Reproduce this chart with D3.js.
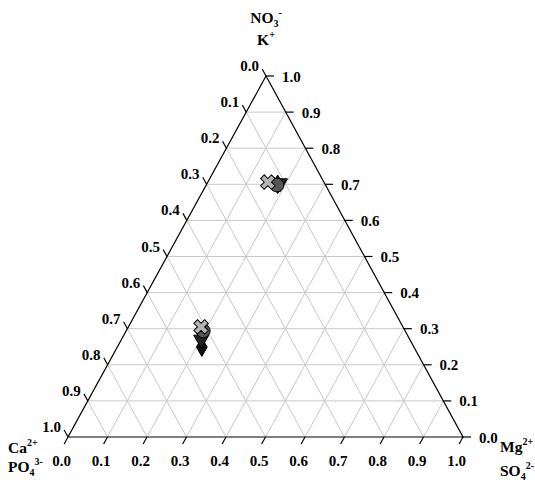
<!DOCTYPE html>
<html>
<head>
<meta charset="utf-8">
<script src="https://cdn.jsdelivr.net/npm/d3@7"></script>
<style>
  body { margin: 0; background: #fff; }
  svg { display: block; }
  text { font-family: "Liberation Serif", "Times New Roman", serif; font-weight: bold; fill: #000; }
</style>
</head>
<body>
<svg id="chart" width="535" height="485"></svg>
<script>
// Tick positions and labels shared by the three ternary axes
const tickValues = [0, 0.1, 0.2, 0.3, 0.4, 0.5, 0.6, 0.7, 0.8, 0.9, 1.0];
const tickLabels = ["0.0", "0.1", "0.2", "0.3", "0.4", "0.5", "0.6", "0.7", "0.8", "0.9", "1.0"];

// Compositions: [Ca2+ / PO4 3-, Mg2+ / SO4 2-, NO3- / K+]
const diamondPoints  = [[0.120, 0.180, 0.700], [0.537, 0.214, 0.249]];
const trianglePoints = [[0.113, 0.184, 0.703], [0.528, 0.202, 0.270]];
const circlePoints   = [[0.123, 0.179, 0.698], [0.511, 0.195, 0.294]];
const crossPoints    = [[0.142, 0.152, 0.706], [0.511, 0.184, 0.305]];

const svg = d3.select("#chart");
svg.append("rect").attr("width", 535).attr("height", 485).attr("fill", "#fff");

// Corner positions of the triangle
const cornerCa = [68, 437];   // bottom left
const cornerMg = [463, 437];  // bottom right
const cornerNO = [266, 76];   // top

// One linear scale per edge, mapping a fraction to a point on that edge
const bottomScale = d3.scaleLinear().domain([0, 1]).range([cornerCa, cornerMg]); // Mg2+ fraction
const rightScale  = d3.scaleLinear().domain([0, 1]).range([cornerMg, cornerNO]); // NO3- fraction
const leftScale   = d3.scaleLinear().domain([0, 1]).range([cornerNO, cornerCa]); // Ca2+ fraction

function project(p) {
  const s = p[0] + p[1] + p[2];
  const a = p[0] / s, b = p[1] / s, c = p[2] / s;
  return [a * cornerCa[0] + b * cornerMg[0] + c * cornerNO[0],
          a * cornerCa[1] + b * cornerMg[1] + c * cornerNO[1]];
}

function unit(from, to) {
  const dx = to[0] - from[0], dy = to[1] - from[1];
  const len = Math.hypot(dx, dy);
  return [dx / len, dy / len];
}

// Grid lines
const grid = svg.append("g").attr("stroke", "#c8c8c8").attr("stroke-width", 1).attr("fill", "none");
const inner = tickValues.filter(v => v > 0 && v < 1);
inner.forEach(f => {
  const lines = [
    [project([1 - f, f, 0]), project([0, f, 1 - f])],   // constant Mg
    [project([1 - f, 0, f]), project([0, 1 - f, f])],   // constant NO3
    [project([f, 1 - f, 0]), project([f, 0, 1 - f])]    // constant Ca
  ];
  lines.forEach(l => {
    grid.append("line")
      .attr("x1", l[0][0]).attr("y1", l[0][1])
      .attr("x2", l[1][0]).attr("y2", l[1][1]);
  });
});

// Triangle outline
svg.append("path")
  .attr("d", d3.line()([cornerCa, cornerMg, cornerNO]) + "Z")
  .attr("fill", "none").attr("stroke", "#000").attr("stroke-width", 1.2);

// Ticks and tick labels
const tickLen = 8;
const axes = svg.append("g");
const dirBottom = unit(cornerNO, cornerCa);       // down-left
const dirRight = [1, 0];                          // right
const dirLeft = unit(cornerMg, cornerNO);         // up-left

tickValues.forEach((v, i) => {
  // bottom axis
  let p = bottomScale(v);
  axes.append("line").attr("x1", p[0]).attr("y1", p[1])
    .attr("x2", p[0] + dirBottom[0] * tickLen).attr("y2", p[1] + dirBottom[1] * tickLen)
    .attr("stroke", "#000").attr("stroke-width", 1.2);
  axes.append("text").attr("x", p[0] - 6.5).attr("y", p[1] + 29)
    .attr("text-anchor", "middle").attr("font-size", 15).text(tickLabels[i]);

  // right axis
  p = rightScale(v);
  axes.append("line").attr("x1", p[0]).attr("y1", p[1])
    .attr("x2", p[0] + dirRight[0] * tickLen).attr("y2", p[1] + dirRight[1] * tickLen)
    .attr("stroke", "#000").attr("stroke-width", 1.2);
  axes.append("text").attr("x", p[0] + 16).attr("y", p[1] + 5.5)
    .attr("text-anchor", "start").attr("font-size", 15).text(tickLabels[i]);

  // left axis
  p = leftScale(v);
  axes.append("line").attr("x1", p[0]).attr("y1", p[1])
    .attr("x2", p[0] + dirLeft[0] * tickLen).attr("y2", p[1] + dirLeft[1] * tickLen)
    .attr("stroke", "#000").attr("stroke-width", 1.2);
  axes.append("text").attr("x", p[0] - 7).attr("y", p[1] - 5)
    .attr("text-anchor", "end").attr("font-size", 15).text(tickLabels[i]);
});

// Axis titles with sub/superscripts
function title(x, y, anchor, parts) {
  const t = svg.append("text").attr("x", x).attr("y", y)
    .attr("text-anchor", anchor).attr("font-size", 15.5);
  let shift = 0;
  parts.forEach(([str, kind]) => {
    const target = kind === "sub" ? 4 : kind === "sup" ? -7 : 0;
    t.append("tspan").attr("dy", target - shift)
      .attr("font-size", kind ? 10 : 15.5).text(str);
    shift = target;
  });
}
title(266, 23, "middle", [["NO", null], ["3", "sub"], ["-", "sup"]]);
title(266, 45, "middle", [["K", null], ["+", "sup"]]);
title(8, 453, "start", [["Ca", null], ["2+", "sup"]]);
title(8, 472, "start", [["PO", null], ["4", "sub"], ["3-", "sup"]]);
title(500, 452, "start", [["Mg", null], ["2+", "sup"]]);
title(500, 476, "start", [["SO", null], ["4", "sub"], ["2-", "sup"]]);

// Data markers
const marks = svg.append("g");
function drawSeries(points, type, size, fill, rotate) {
  marks.selectAll(null).data(points).enter().append("path")
    .attr("d", d3.symbol().type(type).size(size))
    .attr("transform", d => {
      const p = project(d);
      return `translate(${p[0]},${p[1]}) rotate(${rotate})`;
    })
    .attr("fill", fill).attr("stroke", "#000").attr("stroke-width", 1);
}
drawSeries(diamondPoints, d3.symbolDiamond, 100, "#111", 0);
drawSeries(trianglePoints, d3.symbolTriangle, 100, "#222", 180);
drawSeries(circlePoints, d3.symbolCircle, 150, "#555", 0);
drawSeries(crossPoints, d3.symbolCross, 130, "#b4b4b4", 45);
</script>
</body>
</html>
